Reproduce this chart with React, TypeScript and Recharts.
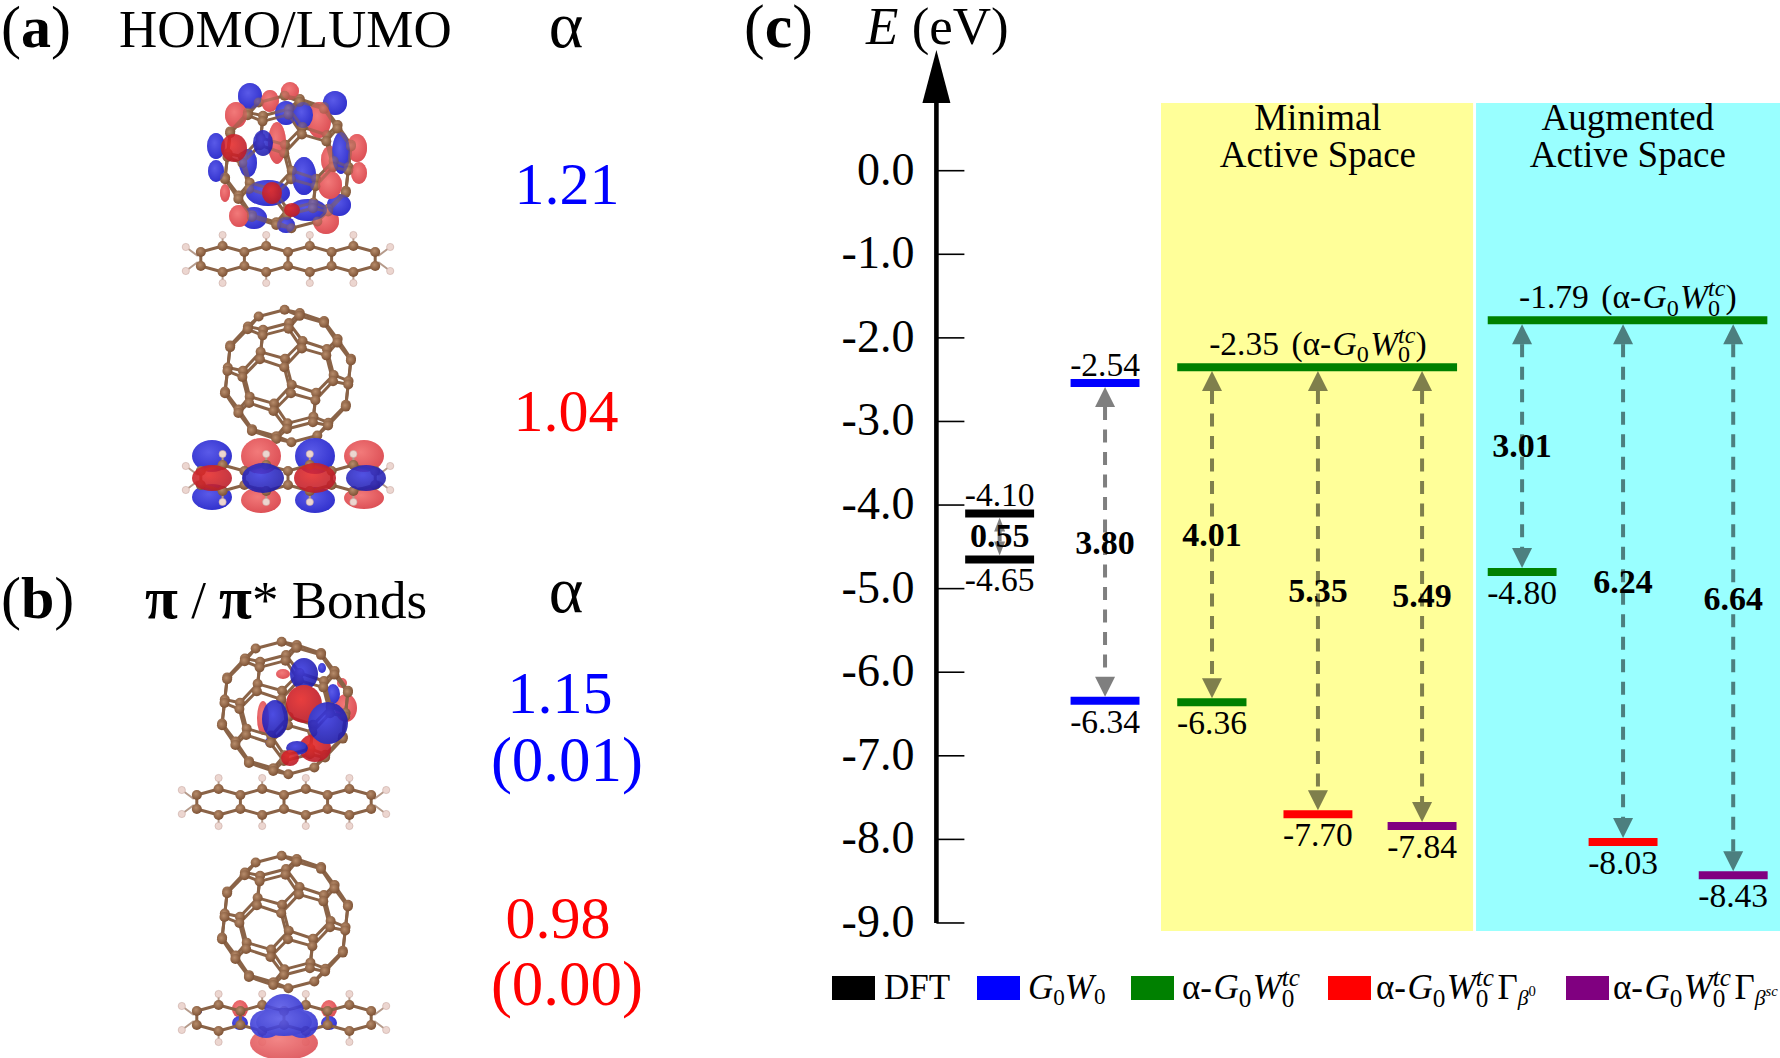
import React from 'react'
import { ComposedChart, Line, Scatter, XAxis, YAxis, ReferenceArea, Legend } from 'recharts'

const SERIF = '"Liberation Serif", "Times New Roman", serif'

// energy axis
const energyTicks = [0, -1, -2, -3, -4, -5, -6, -7, -8, -9]
const energyDomain = [-9.096, 1.444]
const columnDomain = [-0.6, 7.404]
const bandTopEnergy = 0.81

// energy levels
const levelValues = [-4.1, -4.65, -2.54, -6.34, -2.35, -6.36, -7.7, -7.84, -1.79, -4.8, -8.03, -8.43]
const levelTexts = ['-4.10', '-4.65', '-2.54', '-6.34', '-2.35', '-6.36', '-7.70', '-7.84', '-1.79', '-4.80', '-8.03', '-8.43']
const levelMethods = ['dft', 'dft', 'gw', 'gw', 'tc', 'tc', 'b0', 'bsc', 'tc', 'tc', 'b0', 'bsc']
const levelFrom = [-0.327, -0.327, 0.673, 0.673, 1.685, 1.685, 2.693, 3.681, 4.631, 4.631, 5.588, 6.633]
const levelTo = [0.327, 0.327, 1.327, 1.327, 4.34, 2.342, 3.347, 4.335, 7.284, 5.284, 6.242, 7.287]
const levelTextColumn = [0, 0, 1, 1, 3.02, 2.015, 3.02, 4.008, 5.96, 4.957, 5.915, 6.96]
const levelTextBelow = [false, true, false, true, false, true, true, true, false, true, true, true]

// excitation gaps
const gapColumn = [0, 1, 2.015, 3.02, 4.008, 4.957, 5.915, 6.96]
const gapTop = [-4.1, -2.54, -2.35, -2.35, -2.35, -1.79, -1.79, -1.79]
const gapBottom = [-4.65, -6.34, -6.36, -7.7, -7.84, -4.8, -8.03, -8.43]
const gapTexts = ['0.55', '3.80', '4.01', '5.35', '5.49', '3.01', '6.24', '6.64']
const gapTextEnergy = [-4.5, -4.58, -4.49, -5.16, -5.22, -3.42, -5.05, -5.25]

// active space bands
const bandFrom = [1.531, 4.52]
const bandTo = [4.492, 7.404]
const bandFills = ['#ffff99', '#99ffff']
const bandColumn = [3.02, 5.96, 3.02, 5.96]
const bandEnergy = [0.49, 0.49, 0.044, 0.044]
const bandTexts = ['Minimal', 'Augmented', 'Active Space', 'Active Space']

// legend
const methodColors: Record<string, string> = { dft: '#000000', gw: '#0000ff', tc: '#008000', b0: '#ff0000', bsc: '#800080' }
const legendMethods = ['dft', 'gw', 'tc', 'b0', 'bsc']

const PX_PER_EV = 83.6
const ARROW_FILL = 'rgba(0,0,0,0.5)'

const SUB = { fontSize: '0.72em' }

function GW0tc() {
  return (
    <>
      <tspan fontStyle="italic" dx="0.04em">G</tspan>
      <tspan dy="0.3em" style={SUB}>0</tspan>
      <tspan dy="-0.216em" dx="0.04em" fontStyle="italic">W</tspan>
      <tspan dy="0.3em" style={SUB}>0</tspan>
      <tspan dx="-0.5em" dy="-0.8em" fontStyle="italic" style={SUB}>tc</tspan>
    </>
  )
}

function EnergyTick({ x, y, payload }: any) {
  const text = payload.value === 0 ? '0.0' : payload.value.toFixed(1)
  const ax = x + 8
  return (
    <g>
      <line x1={ax} x2={ax + 28} y1={y} y2={y} stroke="#000" strokeWidth={1.6} />
      <text x={ax - 22} y={y + 14} textAnchor="end" fontFamily={SERIF} fontSize={46} fill="#000">{text}</text>
    </g>
  )
}

function LevelLabel({ cx, cy, payload }: any) {
  const rich = payload.column === 3.02 && !payload.below ? true : payload.column === 5.96
  const dy = payload.below ? 32 : rich ? -12 : -7
  return (
    <text x={cx} y={cy + dy} textAnchor="middle" fontFamily={SERIF} fontSize={33.5} fill="#000">
      {payload.text}
      {rich && (
        <>
          <tspan dx="0.12em">{' (α-'}</tspan>
          <GW0tc />
          <tspan dy="0.36em">)</tspan>
        </>
      )}
    </text>
  )
}

function GapLabel({ cx, cy, payload }: any) {
  return (
    <text x={cx} y={cy} textAnchor="middle" fontFamily={SERIF} fontSize={34} fontWeight="bold" fill="#000">
      {payload.text}
    </text>
  )
}

function BandTitle({ cx, cy, payload }: any) {
  return (
    <text x={cx} y={cy} textAnchor="middle" fontFamily={SERIF} fontSize={37} fill="#000">
      {payload.text}
    </text>
  )
}

function arrowHead(props: any) {
  const { cx, cy, index, payload } = props
  const h = payload.head
  const w = payload.wide
  const dir = index === 0 ? -1 : 1
  return <polygon key={index} points={`${cx - w / 2},${cy} ${cx + w / 2},${cy} ${cx},${cy + dir * h}`} fill={ARROW_FILL} />
}

function axisHead(props: any) {
  const { cx, cy, index } = props
  if (index !== 1) return <g key={index} />
  return <polygon key={index} points={`${cx - 14},${cy} ${cx + 14},${cy} ${cx},${cy - 53}`} fill="#000" />
}

function LegendRow() {
  const boxX = [832, 977, 1131, 1328, 1566]
  const textX = [884, 1028, 1182, 1376, 1613]
  const fs = 35
  return (
    <svg width={1780} height={118} style={{ display: 'block', overflow: 'visible' }}>
      {legendMethods.map((m, i) => (
        <rect key={m} x={boxX[i]} y={36} width={43} height={24} fill={methodColors[m]} />
      ))}
      <g fontFamily={SERIF} fontSize={fs} fill="#000">
        <text x={textX[0]} y={59}>DFT</text>
        <text x={textX[1]} y={59}>
          <tspan fontStyle="italic">G</tspan>
          <tspan dy="0.24em" style={{ fontSize: '0.66em' }}>0</tspan>
          <tspan dy="-0.16em" fontStyle="italic">W</tspan>
          <tspan dy="0.24em" style={{ fontSize: '0.66em' }}>0</tspan>
        </text>
        <text x={textX[2]} y={59}>α-<GW0tc /></text>
        <text x={textX[3]} y={59}>
          α-<GW0tc />
          <tspan dy="0.36em" dx="0.1em">Γ</tspan>
          <tspan dy="0.28em" fontStyle="italic" style={{ fontSize: '0.62em' }}>β</tspan>
          <tspan dy="-0.6em" style={{ fontSize: '0.42em' }}>0</tspan>
        </text>
        <text x={textX[4]} y={59}>
          α-<GW0tc />
          <tspan dy="0.36em" dx="0.1em">Γ</tspan>
          <tspan dy="0.28em" fontStyle="italic" style={{ fontSize: '0.62em' }}>β</tspan>
          <tspan dy="-0.6em" fontStyle="italic" style={{ fontSize: '0.42em' }}>sc</tspan>
        </text>
      </g>
    </svg>
  )
}

function EnergyDiagram() {
  const levelPoints = levelValues.map((v, i) => [
    { x: levelFrom[i], y: v },
    { x: levelTo[i], y: v },
  ])
  const levelLabels = levelValues.map((v, i) => ({ x: levelTextColumn[i], y: v, text: levelTexts[i], below: levelTextBelow[i], column: levelTextColumn[i] }))
  const gapLabels = gapTexts.map((t, i) => ({ x: gapColumn[i], y: gapTextEnergy[i], text: t }))
  const bandLabels = bandTexts.map((t, i) => ({ x: bandColumn[i], y: bandEnergy[i], text: t }))
  const arrows = gapColumn.map((c, i) => {
    const head = i === 0 ? 14 : 20
    const wide = i === 0 ? 11 : 20
    const pad = (head + 4) / PX_PER_EV
    return [
      { x: c, y: gapTop[i] - pad, head, wide },
      { x: c, y: gapBottom[i] + pad, head, wide },
    ]
  })
  const axisPoints = [
    { x: columnDomain[0], y: -9 },
    { x: columnDomain[0], y: bandTopEnergy },
  ]

  return (
    <ComposedChart width={1780} height={1058} margin={{ top: 50, right: 0, bottom: 127, left: 836.4 }} style={{ position: 'absolute', left: 0, top: 0 }}>
      <XAxis type="number" dataKey="x" domain={columnDomain} hide />
      <YAxis
        type="number"
        dataKey="y"
        width={100}
        domain={energyDomain}
        ticks={energyTicks}
        interval={0}
        axisLine={false}
        tickLine={false}
        tick={<EnergyTick />}
      />
      {bandFills.map((fill, i) => (
        <ReferenceArea key={fill} x1={bandFrom[i]} x2={bandTo[i]} y1={energyDomain[0]} y2={bandTopEnergy} fill={fill} fillOpacity={1} stroke="none" />
      ))}
      <Line data={axisPoints} dataKey="y" stroke="#000" strokeWidth={4.6} dot={axisHead} isAnimationActive={false} legendType="none" />
      {arrows.map((pts, i) => (
        <Line
          key={`arrow-${i}`}
          data={pts}
          dataKey="y"
          stroke={ARROW_FILL}
          strokeWidth={4}
          strokeDasharray="13 9.5"
          dot={arrowHead}
          isAnimationActive={false}
          legendType="none"
        />
      ))}
      {levelPoints.map((pts, i) => (
        <Line
          key={`level-${i}`}
          data={pts}
          dataKey="y"
          stroke={methodColors[levelMethods[i]]}
          strokeWidth={8}
          dot={false}
          isAnimationActive={false}
          legendType="none"
        />
      ))}
      <Scatter data={levelLabels} dataKey="y" shape={<LevelLabel />} isAnimationActive={false} legendType="none" />
      <Scatter data={gapLabels} dataKey="y" shape={<GapLabel />} isAnimationActive={false} legendType="none" />
      <Scatter data={bandLabels} dataKey="y" shape={<BandTitle />} isAnimationActive={false} legendType="none" />
      <Legend
        layout="horizontal"
        verticalAlign="middle"
        align="center"
        wrapperStyle={{ left: 0, top: 940, width: 1780, height: 118 }}
        content={<LegendRow />}
      />
    </ComposedChart>
  )
}

// ---- molecule pictures of panels (a) and (b) ----

const PHI = (1 + Math.sqrt(5)) / 2

function c60Vertices() {
  const seeds = [
    [0, 1, 3 * PHI],
    [1, 2 + PHI, 2 * PHI],
    [PHI, 2, 2 * PHI + 1],
  ]
  const out: number[][] = []
  const seen = new Set<string>()
  seeds.forEach(([a, b, c]) => {
    const perms = [[a, b, c], [b, c, a], [c, a, b]]
    perms.forEach((p) => {
      for (const sx of [1, -1]) for (const sy of [1, -1]) for (const sz of [1, -1]) {
        const v = [p[0] * sx, p[1] * sy, p[2] * sz]
        const key = v.map((n) => n.toFixed(3)).join(',')
        if (!seen.has(key)) {
          seen.add(key)
          out.push(v)
        }
      }
    })
  })
  return out
}

function rotate(v: number[], ax: number, ay: number, az: number) {
  let [x, y, z] = v
  ;[y, z] = [y * Math.cos(ax) - z * Math.sin(ax), y * Math.sin(ax) + z * Math.cos(ax)]
  ;[x, z] = [x * Math.cos(ay) + z * Math.sin(ay), -x * Math.sin(ay) + z * Math.cos(ay)]
  ;[x, y] = [x * Math.cos(az) - y * Math.sin(az), x * Math.sin(az) + y * Math.cos(az)]
  return [x, y, z]
}

function Fullerene({ cx, cy }: { cx: number; cy: number }) {
  const verts = c60Vertices()
  const pts = verts.map((v) => rotate(v, 0.95, -0.3, 0.32))
  const s = 13.4
  const bonds: number[][] = []
  for (let i = 0; i < verts.length; i++) {
    for (let j = i + 1; j < verts.length; j++) {
      const d = Math.hypot(verts[i][0] - verts[j][0], verts[i][1] - verts[j][1], verts[i][2] - verts[j][2])
      if (d < 2.1) bonds.push([i, j])
    }
  }
  const order = pts.map((p, i) => i).sort((a, b) => pts[a][2] - pts[b][2])
  return (
    <g>
      {bonds.map(([a, b]) => (
        <line key={`${a}-${b}`} x1={cx + pts[a][0] * s} y1={cy + pts[a][1] * s} x2={cx + pts[b][0] * s} y2={cy + pts[b][1] * s} stroke="#8a6347" strokeWidth={3} />
      ))}
      {order.map((i) => (
        <circle key={i} cx={cx + pts[i][0] * s} cy={cy + pts[i][1] * s} r={5} fill="url(#atomC)" />
      ))}
    </g>
  )
}

function Tetracene({ cx, cy }: { cx: number; cy: number }) {
  const step = 43.6
  const col = [-2, -1, 0, 1, 2]
  const peak = [-1.5, -0.5, 0.5, 1.5]
  const carbons: number[][] = []
  const segs: number[][] = []
  col.forEach((k) => {
    const x = cx + k * step
    carbons.push([x, cy - 7], [x, cy + 7])
    segs.push([x, cy - 7, x, cy + 7])
  })
  peak.forEach((k) => {
    const x = cx + k * step
    carbons.push([x, cy - 13], [x, cy + 13])
    segs.push([x - step / 2, cy - 7, x, cy - 13], [x + step / 2, cy - 7, x, cy - 13], [x - step / 2, cy + 7, x, cy + 13], [x + step / 2, cy + 7, x, cy + 13])
  })
  const hydrogens: number[][] = []
  peak.forEach((k) => hydrogens.push([cx + k * step, cy - 24], [cx + k * step, cy + 24]))
  ;[-1, 1].forEach((side) => hydrogens.push([cx + side * (2 * step + 15), cy - 12], [cx + side * (2 * step + 15), cy + 12]))
  return (
    <g>
      {segs.map((s, i) => (
        <line key={i} x1={s[0]} y1={s[1]} x2={s[2]} y2={s[3]} stroke="#8a6347" strokeWidth={3} />
      ))}
      {hydrogens.map((h, i) => (
        <line key={`b${i}`} x1={h[0]} y1={h[1]} x2={h[0] - Math.sign(h[0] - cx) * (Math.abs(h[0] - cx) > 2 * step ? 12 : 0)} y2={h[1] - Math.sign(h[1] - cy) * 9} stroke="#b59a8a" strokeWidth={2} />
      ))}
      {hydrogens.map((h, i) => (
        <circle key={`h${i}`} cx={h[0]} cy={h[1]} r={3.6} fill="#ecd6d0" stroke="#c9aaa2" strokeWidth={0.6} />
      ))}
      {carbons.map((c, i) => (
        <circle key={`c${i}`} cx={c[0]} cy={c[1]} r={5} fill="url(#atomC)" />
      ))}
    </g>
  )
}

type Lobe = [number, number, number, number, string]
const R = 'url(#lobeR)'
const B = 'url(#lobeB)'
const RD = 'url(#lobeRD)'
const BD = 'url(#lobeBD)'

const homoLobes: Lobe[] = [
  [250, 96, 12, 13, B], [290, 91, 9, 9, R], [335, 103, 12, 12, B], [236, 115, 11, 13, R], [270, 101, 9, 11, R],
  [319, 120, 12, 18, R], [286, 113, 11, 12, B], [303, 115, 10, 13, B], [357, 148, 10, 14, R], [216, 146, 9, 13, B],
  [216, 171, 8, 11, B], [277, 143, 9, 21, R], [248, 163, 9, 14, B], [330, 160, 9, 14, R], [341, 153, 9, 21, B],
  [359, 173, 8, 11, R], [304, 176, 12, 19, B], [268, 193, 22, 13, B], [254, 218, 13, 11, B], [239, 216, 10, 11, R],
  [326, 221, 13, 13, R], [339, 205, 12, 11, B], [308, 210, 19, 11, B], [330, 185, 12, 14, R], [225, 193, 5, 9, R],
  [286, 225, 9, 8, B],
]
const homoFront: Lobe[] = [[234, 148, 13, 14, RD], [263, 143, 10, 13, BD], [272, 193, 10, 11, RD], [292, 210, 8, 7, RD]]

const lumoLobes: Lobe[] = [
  [212, 456, 20, 16, B], [212, 497, 20, 13, B], [261, 456, 20, 18, R], [261, 500, 20, 13, R],
  [315, 456, 20, 18, B], [315, 500, 20, 13, B], [364, 456, 20, 16, R], [364, 498, 20, 11, R],
]
const lumoFront: Lobe[] = [[212, 478, 20, 13, RD], [263, 478, 21, 15, BD], [315, 478, 21, 15, RD], [366, 478, 20, 13, BD]]

const piLobes: Lobe[] = [[263, 718, 6, 17, R], [346, 708, 11, 14, R], [333, 694, 7, 10, B], [342, 683, 5, 5, R], [322, 668, 4, 5, B], [283, 674, 7, 5, R], [270, 742, 5, 5, B]]
const piFront: Lobe[] = [[304, 674, 14, 16, BD], [315, 748, 16, 14, RD], [297, 748, 11, 7, BD], [290, 758, 9, 8, RD], [275, 719, 13, 19, BD], [304, 704, 18, 19, RD], [328, 723, 20, 21, BD]]

const piStarLobes: Lobe[] = [[240, 1009, 8, 9, R], [329, 1009, 8, 9, R], [240, 1023, 8, 7, B], [329, 1023, 8, 7, B], [199, 1011, 3, 3, BD], [371, 1011, 3, 3, BD], [219, 1031, 3, 3, RD], [350, 1031, 3, 3, RD]]
const piStarFront: Lobe[] = [[284, 1043, 34, 17, R], [284, 1012, 20, 18, B], [266, 1024, 16, 14, B], [302, 1024, 16, 14, B], [284, 1022, 28, 14, B]]

function Lobes({ items, opacity = 1 }: { items: Lobe[]; opacity?: number }) {
  return (
    <g opacity={opacity}>
      {items.map((l, i) => (
        <ellipse key={i} cx={l[0]} cy={l[1]} rx={l[2]} ry={l[3]} fill={l[4]} />
      ))}
    </g>
  )
}

function Gradient({ id, inner, outer }: { id: string; inner: string; outer: string }) {
  return (
    <radialGradient id={id} cx="42%" cy="38%" r="65%">
      <stop offset="0%" stopColor={inner} />
      <stop offset="100%" stopColor={outer} />
    </radialGradient>
  )
}

function MoleculePanels() {
  const big = { fontFamily: SERIF, fontSize: 53, fill: '#000' }
  const num = { fontFamily: SERIF, fontSize: 60, textAnchor: 'middle' as const }
  return (
    <svg width={1780} height={1058} style={{ position: 'absolute', left: 0, top: 0, pointerEvents: 'none' }}>
      <defs>
        <Gradient id="atomC" inner="#b78c6b" outer="#7a4f32" />
        <Gradient id="lobeR" inner="#f27a7a" outer="#dc4f55" />
        <Gradient id="lobeB" inner="#5a5ae8" outer="#3030cc" />
        <Gradient id="lobeRD" inner="#e62a2a" outer="#b81a28" />
        <Gradient id="lobeBD" inner="#3a3ae0" outer="#1e1aa8" />
      </defs>

      <text x={1} y={47} fontFamily={SERIF} fontSize={60}>(<tspan fontWeight="bold">a</tspan>)</text>
      <text x={119} y={47} {...big}>HOMO/LUMO</text>
      <text x={566} y={47} fontFamily={SERIF} fontSize={66} textAnchor="middle">α</text>
      <text x={567} y={204} fill="#0000ff" {...num}>1.21</text>
      <text x={566} y={431} fill="#ff0000" {...num}>1.04</text>

      <text x={1} y={618} fontFamily={SERIF} fontSize={60}>(<tspan fontWeight="bold">b</tspan>)</text>
      <text x={145} y={618} {...big}>
        <tspan fontSize={60} fontWeight="bold">π</tspan> / <tspan fontSize={60} fontWeight="bold">π</tspan>* Bonds
      </text>
      <text x={566} y={612} fontFamily={SERIF} fontSize={66} textAnchor="middle">α</text>
      <text x={560} y={713} fill="#0000ff" {...num}>1.15</text>
      <text x={567} y={781} fill="#0000ff" {...num} fontSize={63}>(0.01)</text>
      <text x={558} y={938} fill="#ff0000" {...num}>0.98</text>
      <text x={567} y={1005} fill="#ff0000" {...num} fontSize={63}>(0.00)</text>

      <text x={744} y={47} fontFamily={SERIF} fontSize={62}>(<tspan fontWeight="bold">c</tspan>)</text>
      <text x={866} y={44} {...big}><tspan fontStyle="italic">E</tspan> (eV)</text>

      <Lobes items={homoLobes} />
      <Fullerene cx={288} cy={162} />
      <Lobes items={homoLobes} opacity={0.5} />
      <Lobes items={homoFront} opacity={0.88} />
      <Tetracene cx={288} cy={259} />

      <Fullerene cx={288} cy={376} />
      <Lobes items={lumoLobes} />
      <Tetracene cx={288} cy={478} />
      <Lobes items={lumoFront} opacity={0.88} />

      <Lobes items={piLobes} />
      <Fullerene cx={285} cy={708} />
      <Lobes items={piFront} opacity={0.9} />
      <Tetracene cx={284} cy={802} />

      <Fullerene cx={285} cy={922} />
      <Lobes items={piStarLobes} />
      <Tetracene cx={284} cy={1018} />
      <Lobes items={piStarFront} opacity={0.9} />
    </svg>
  )
}

export default function App() {
  return (
    <div style={{ position: 'absolute', left: 0, top: 0, width: 1780, height: 1058, background: '#fff', overflow: 'hidden' }}>
      <EnergyDiagram />
      <MoleculePanels />
    </div>
  )
}
